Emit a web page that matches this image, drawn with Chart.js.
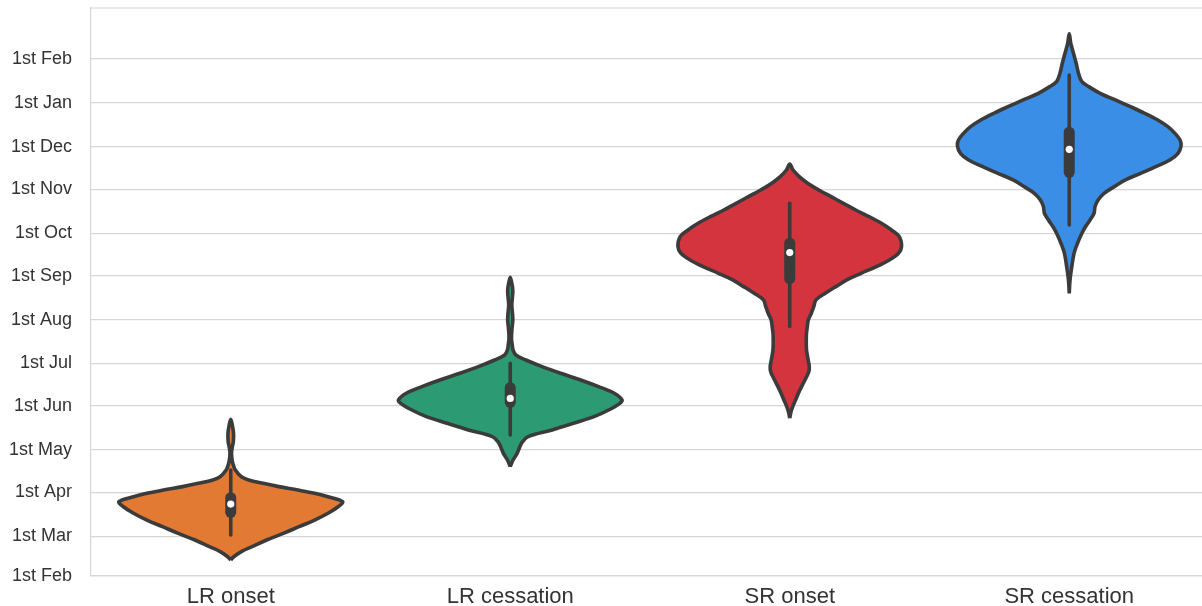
<!DOCTYPE html>
<html>
<head>
<meta charset="utf-8">
<script src="https://cdn.jsdelivr.net/npm/chart.js@4.4.1/dist/chart.umd.min.js"></script>
<style>
  html, body { margin: 0; padding: 0; background: #ffffff; }
  canvas { display: block; }
</style>
</head>
<body>
<canvas id="chart" width="1202" height="606"></canvas>
<script>
// Season timing categories
const categories = ['LR onset', 'LR cessation', 'SR onset', 'SR cessation'];

// Day-of-year of each month tick (1 Jan = 1, counting on past 31 Dec)
const tickDays = [32, 60, 91, 121, 152, 182, 213, 244, 274, 305, 335, 366, 397];
const tickLabels = ['1st Feb', '1st Mar', '1st Apr', '1st May', '1st Jun', '1st Jul',
                    '1st Aug', '1st Sep', '1st Oct', '1st Nov', '1st Dec', '1st Jan', '1st Feb'];

// Kernel density profiles (day-of-year, density scaled to the widest point = 1)
const lrOnsetDays    = [43.3, 45.6, 49.2, 52.7, 57.4, 62.1, 66.8, 71.5, 76.3, 80.9, 84.5, 88.0, 90.4, 92.7,
                        95.1, 97.4, 99.8, 102.1, 106.8, 110.4, 113.9, 118.6, 122.2, 126.8, 132.7, 138.6, 142.6];
const lrOnsetDensity = [0, 0.027, 0.095, 0.19, 0.32, 0.47, 0.61, 0.75, 0.87, 0.96, 1.0, 0.87, 0.75, 0.60,
                        0.43, 0.29, 0.16, 0.095, 0.041, 0.023, 0.012, 0.007, 0.012, 0.023, 0.025, 0.014, 0];

const lrCessationDays    = [109.2, 113.9, 118.6, 123.3, 126.8, 130.4, 135.1, 139.8, 144.5, 149.2, 153.9, 156.3,
                            161.0, 165.7, 170.4, 175.1, 179.8, 184.5, 188.0, 191.6, 195.1, 199.8, 206.9, 212.7,
                            217.5, 223.3, 229.2, 233.9, 238.7, 242.9];
const lrCessationDensity = [0, 0.025, 0.062, 0.086, 0.11, 0.16, 0.375, 0.565, 0.75, 0.88, 0.98, 1.0,
                            0.93, 0.79, 0.63, 0.45, 0.285, 0.14, 0.05, 0.025, 0.018, 0.011, 0.016, 0.023,
                            0.02, 0.014, 0.02, 0.023, 0.014, 0];

const srOnsetDays    = [143.5, 149.2, 156.3, 163.3, 170.4, 176.0, 179.8, 184.5, 191.6, 198.6, 203.6, 208.0,
                        212.7, 217.5, 222.2, 226.9, 231.6, 236.3, 241.0, 245.7, 250.4, 255.1, 259.8, 264.5,
                        271.6, 276.3, 281.0, 285.7, 290.4, 295.1, 299.8, 304.5, 309.3, 313.9, 318.6, 322.9];
const srOnsetDensity = [0, 0.016, 0.052, 0.091, 0.136, 0.17, 0.175, 0.165, 0.15, 0.148, 0.15, 0.157,
                        0.166, 0.193, 0.215, 0.235, 0.318, 0.412, 0.51, 0.638, 0.774, 0.891, 0.973, 1.0,
                        0.98, 0.91, 0.82, 0.71, 0.59, 0.48, 0.37, 0.26, 0.16, 0.085, 0.03, 0];

const srCessationDays    = [231.6, 241.0, 250.4, 259.8, 266.9, 274.0, 278.6, 283.3, 288.1, 292.8, 297.5, 302.2,
                            306.9, 311.6, 316.3, 321.0, 325.7, 330.4, 335.6, 339.8, 344.5, 349.2, 353.9, 358.7,
                            363.3, 368.1, 372.8, 377.5, 381.0, 386.9, 394.0, 401.0, 408.1, 414.7];
const srCessationDensity = [0, 0.007, 0.023, 0.043, 0.074, 0.113, 0.145, 0.186, 0.222, 0.231, 0.258, 0.312,
                            0.403, 0.502, 0.638, 0.774, 0.90, 0.973, 1.0, 0.991, 0.946, 0.882, 0.792, 0.674,
                            0.548, 0.412, 0.276, 0.174, 0.113, 0.083, 0.062, 0.038, 0.014, 0];

// Inner box summary per category (day-of-year)
const whiskerLow  = [60.9, 131.6, 208.1, 279.8];
const quartile1   = [77.0, 154.6, 242.0, 317.0];
const medians     = [82.8, 157.4, 260.3, 333.2];
const quartile3   = [87.3, 164.9, 267.0, 345.3];
const whiskerHigh = [106.8, 182.1, 295.1, 385.7];

const violinColors = ['#e27a33', '#2c9a72', '#d4343e', '#3a8ee6'];

const profiles = [
  [lrOnsetDays, lrOnsetDensity],
  [lrCessationDays, lrCessationDensity],
  [srOnsetDays, srOnsetDensity],
  [srCessationDays, srCessationDensity]
];

const OUTLINE = '#3b3b3b';
const GRID = '#d6d6d6';
const FONT = "'Liberation Sans', Arial, Helvetica, sans-serif";
const HALF_WIDTH = 0.4;

// Closed outline: up the left side, back down the right side
function violinOutline(pos, days, dens) {
  const left = days.map((d, i) => ({ x: pos - dens[i] * HALF_WIDTH, y: d }));
  const right = days.map((d, i) => ({ x: pos + dens[i] * HALF_WIDTH, y: d })).reverse().slice(1);
  return left.concat(right);
}

const datasets = [];

profiles.forEach(([days, dens], i) => {
  datasets.push({
    data: violinOutline(i, days, dens),
    showLine: true,
    fill: 'shape',
    backgroundColor: violinColors[i],
    borderColor: OUTLINE,
    borderWidth: 3.6,
    borderJoinStyle: 'round',
    tension: 0.35,
    pointRadius: 0,
    order: 3
  });
});

categories.forEach((c, i) => {
  datasets.push({
    data: [{ x: i, y: whiskerLow[i] }, { x: i, y: whiskerHigh[i] }],
    showLine: true,
    borderColor: OUTLINE,
    borderWidth: 3.6,
    borderCapStyle: 'round',
    pointRadius: 0,
    order: 2
  });
  datasets.push({
    data: [{ x: i, y: quartile1[i] }, { x: i, y: quartile3[i] }],
    showLine: true,
    borderColor: OUTLINE,
    borderWidth: 11,
    borderCapStyle: 'round',
    pointRadius: 0,
    order: 1
  });
});

datasets.push({
  data: categories.map((c, i) => ({ x: i, y: medians[i] })),
  showLine: false,
  pointRadius: 3.6,
  pointBackgroundColor: '#ffffff',
  pointBorderWidth: 0,
  order: 0
});

// Light frame line along the top of the plotting area
const topSpine = {
  id: 'topSpine',
  beforeDatasetsDraw(chart) {
    const { ctx, chartArea: a } = chart;
    ctx.save();
    ctx.strokeStyle = GRID;
    ctx.lineWidth = 1.2;
    ctx.beginPath();
    ctx.moveTo(a.left, a.top);
    ctx.lineTo(a.right, a.top);
    ctx.stroke();
    ctx.restore();
  }
};

new Chart(document.getElementById('chart'), {
  type: 'scatter',
  data: { datasets },
  plugins: [topSpine],
  options: {
    responsive: false,
    animation: false,
    events: [],
    layout: { autoPadding: false, padding: { top: 8, left: 0, right: 0, bottom: 0 } },
    plugins: { legend: { display: false }, tooltip: { enabled: false } },
    scales: {
      x: {
        type: 'linear',
        min: -0.5,
        max: 3.475,
        afterBuildTicks: s => { s.ticks = categories.map((c, i) => ({ value: i })); },
        ticks: {
          callback: (v, i) => categories[i],
          font: { family: FONT, size: 22 },
          color: '#333333',
          padding: 8,
          maxRotation: 0,
          autoSkip: false
        },
        grid: { display: false, drawTicks: false },
        border: { display: true, color: GRID, width: 1.2 },
        afterFit: s => { s.height = 30; s.paddingLeft = 0; s.paddingRight = 0; }
      },
      y: {
        type: 'linear',
        min: 32,
        max: 433,
        afterBuildTicks: s => { s.ticks = tickDays.map(v => ({ value: v })); },
        ticks: {
          callback: (v, i) => tickLabels[i],
          font: { family: FONT, size: 18 },
          color: '#333333',
          padding: 19,
          autoSkip: false
        },
        grid: { color: GRID, lineWidth: 1.2, drawTicks: false },
        border: { display: true, color: GRID, width: 1.2 },
        afterFit: s => { s.width = 91; s.paddingTop = 0; s.paddingBottom = 0; }
      }
    }
  }
});
</script>
</body>
</html>
